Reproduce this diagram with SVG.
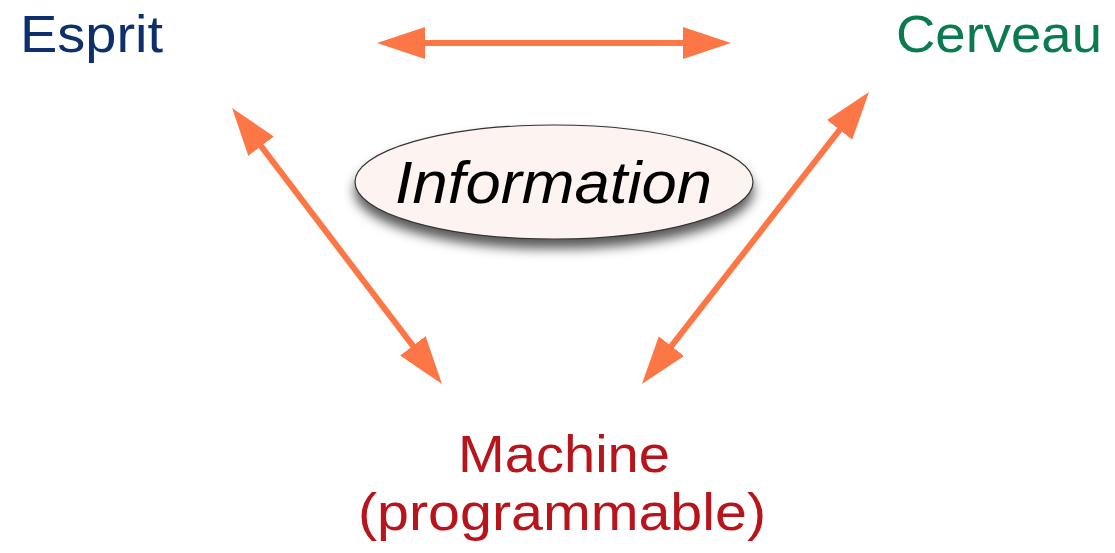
<svg xmlns="http://www.w3.org/2000/svg" width="1115" height="553" viewBox="0 0 1115 553">
  <style>
    .lbl { font-family: "Liberation Sans", Arial, sans-serif; font-size: 52px; }
    .conn { stroke: #fd7746; stroke-width: 6; fill: none; }
  </style>
  <defs>
    <marker id="head" markerUnits="userSpaceOnUse" markerWidth="50" markerHeight="34" viewBox="0 0 50 34" refX="2" refY="17" orient="auto-start-reverse">
      <path d="M0,1 L48,17 L0,33 z" fill="#fd7746"/>
    </marker>
    <filter id="shadow" x="-20%" y="-30%" width="140%" height="170%">
      <feDropShadow dx="0" dy="9" stdDeviation="6" flood-color="#000" flood-opacity="0.65"/>
    </filter>
  </defs>
  <rect width="1115" height="553" fill="#ffffff"/>
  <g id="connectors">
    <line class="conn" x1="423" y1="43" x2="685" y2="43" marker-start="url(#head)" marker-end="url(#head)"/>
    <line class="conn" x1="259.9" y1="144.6" x2="414.1" y2="347.4" marker-start="url(#head)" marker-end="url(#head)"/>
    <line class="conn" x1="840.8" y1="128.3" x2="670.2" y2="347.7" marker-start="url(#head)" marker-end="url(#head)"/>
  </g>
  <g id="esprit">
    <text class="lbl" x="20" y="52" fill="#0d2f6b" textLength="143" lengthAdjust="spacingAndGlyphs">Esprit</text>
  </g>
  <g id="cerveau">
    <text class="lbl" x="896" y="52" fill="#0a7a4f" textLength="206" lengthAdjust="spacingAndGlyphs">Cerveau</text>
  </g>
  <g id="machine">
    <text class="lbl" x="458" y="472" fill="#b8141b" textLength="212" lengthAdjust="spacingAndGlyphs">Machine</text>
    <text class="lbl" x="358" y="530" fill="#b8141b" textLength="408" lengthAdjust="spacingAndGlyphs">(programmable)</text>
  </g>
  <g id="information">
    <ellipse cx="554" cy="182" rx="199" ry="57" fill="#fdf3f1" stroke="#333" stroke-width="1.2" filter="url(#shadow)"/>
    <text x="395" y="203" font-family="Liberation Sans, Arial, sans-serif" font-style="italic" font-size="60" fill="#000" textLength="317" lengthAdjust="spacingAndGlyphs">Information</text>
  </g>
</svg>
